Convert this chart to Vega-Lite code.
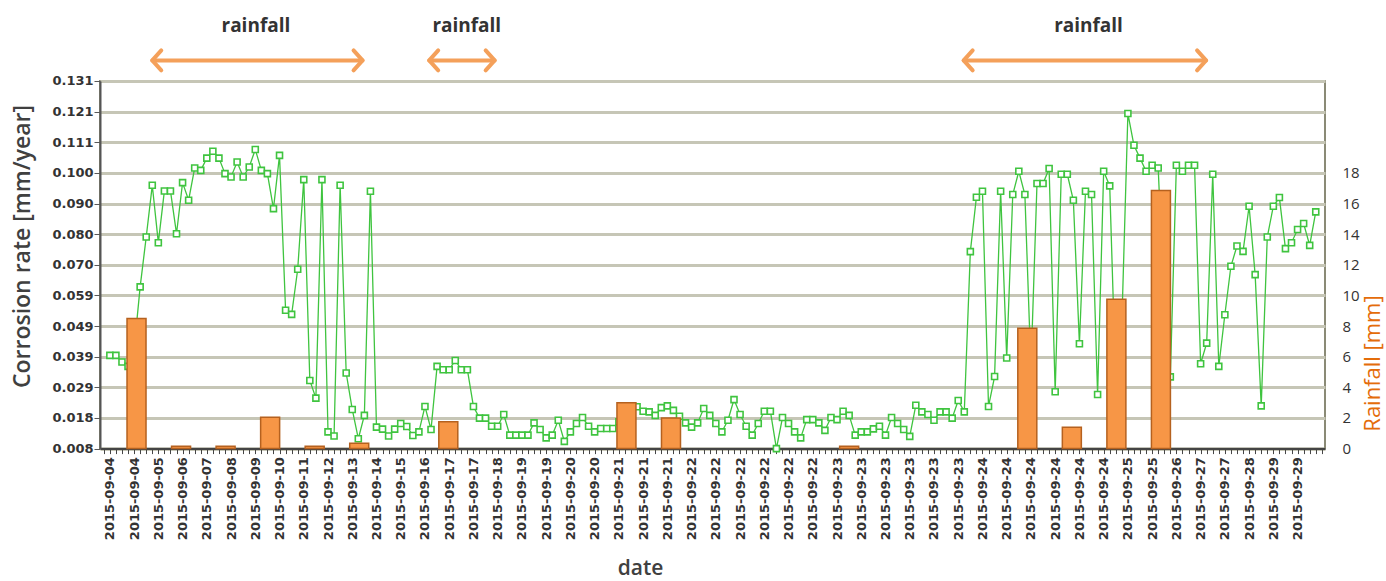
{
  "$schema": "https://vega.github.io/schema/vega-lite/v6.json",
  "width": 1225,
  "height": 367.6,
  "autosize": {"type": "none"},
  "padding": {"left": 100, "top": 81, "right": 61, "bottom": 132},
  "background": "white",
  "config": {
    "view": {"stroke": "#8a8a76", "strokeWidth": 2},
    "font": "Open Sans"
  },
  "datasets": {
    "corrosion": [
      {"t":0,"rate":0.0392},{"t":1,"rate":0.0392},{"t":2,"rate":0.0370},{"t":3,"rate":0.0355},{"t":4,"rate":0.0413},
      {"t":5,"rate":0.0621},{"t":6,"rate":0.0788},{"t":7,"rate":0.0961},{"t":8,"rate":0.0769},{"t":9,"rate":0.0942},
      {"t":10,"rate":0.0942},{"t":11,"rate":0.0799},{"t":12,"rate":0.0970},{"t":13,"rate":0.0911},{"t":14,"rate":0.1019},
      {"t":15,"rate":0.1011},{"t":16,"rate":0.1052},{"t":17,"rate":0.1075},{"t":18,"rate":0.1052},{"t":19,"rate":0.1000},
      {"t":20,"rate":0.0989},{"t":21,"rate":0.1039},{"t":22,"rate":0.0989},{"t":23,"rate":0.1022},{"t":24,"rate":0.1081},
      {"t":25,"rate":0.1011},{"t":26,"rate":0.1000},{"t":27,"rate":0.0883},{"t":28,"rate":0.1061},{"t":29,"rate":0.0543},
      {"t":30,"rate":0.0529},{"t":31,"rate":0.0680},{"t":32,"rate":0.0980},{"t":33,"rate":0.0308},{"t":34,"rate":0.0249},
      {"t":35,"rate":0.0980},{"t":36,"rate":0.0136},{"t":37,"rate":0.0122},{"t":38,"rate":0.0961},{"t":39,"rate":0.0333},
      {"t":40,"rate":0.0211},{"t":41,"rate":0.0113},{"t":42,"rate":0.0191},{"t":43,"rate":0.0941},{"t":44,"rate":0.0152},
      {"t":45,"rate":0.0145},{"t":46,"rate":0.0122},{"t":47,"rate":0.0145},{"t":48,"rate":0.0164},{"t":49,"rate":0.0154},
      {"t":50,"rate":0.0124},{"t":51,"rate":0.0136},{"t":52,"rate":0.0221},{"t":53,"rate":0.0144},{"t":54,"rate":0.0355},
      {"t":55,"rate":0.0344},{"t":56,"rate":0.0344},{"t":57,"rate":0.0375},{"t":58,"rate":0.0344},{"t":59,"rate":0.0344},
      {"t":60,"rate":0.0221},{"t":61,"rate":0.0182},{"t":62,"rate":0.0182},{"t":63,"rate":0.0155},{"t":64,"rate":0.0155},
      {"t":65,"rate":0.0194},{"t":66,"rate":0.0125},{"t":67,"rate":0.0125},{"t":68,"rate":0.0125},{"t":69,"rate":0.0125},
      {"t":70,"rate":0.0166},{"t":71,"rate":0.0144},{"t":72,"rate":0.0116},{"t":73,"rate":0.0125},{"t":74,"rate":0.0175},
      {"t":75,"rate":0.0104},{"t":76,"rate":0.0136},{"t":77,"rate":0.0164},{"t":78,"rate":0.0184},{"t":79,"rate":0.0155},
      {"t":80,"rate":0.0136},{"t":81,"rate":0.0147},{"t":82,"rate":0.0147},{"t":83,"rate":0.0147},{"t":84,"rate":0.0170},
      {"t":85,"rate":0.0200},{"t":86,"rate":0.0210},{"t":87,"rate":0.0220},{"t":88,"rate":0.0205},{"t":89,"rate":0.0203},
      {"t":90,"rate":0.0191},{"t":91,"rate":0.0217},{"t":92,"rate":0.0223},{"t":93,"rate":0.0208},{"t":94,"rate":0.0188},
      {"t":95,"rate":0.0166},{"t":96,"rate":0.0152},{"t":97,"rate":0.0166},{"t":98,"rate":0.0214},{"t":99,"rate":0.0191},
      {"t":100,"rate":0.0164},{"t":101,"rate":0.0136},{"t":102,"rate":0.0175},{"t":103,"rate":0.0244},{"t":104,"rate":0.0194},
      {"t":105,"rate":0.0155},{"t":106,"rate":0.0125},{"t":107,"rate":0.0164},{"t":108,"rate":0.0205},{"t":109,"rate":0.0205},
      {"t":110,"rate":0.0080},{"t":111,"rate":0.0184},{"t":112,"rate":0.0164},{"t":113,"rate":0.0136},{"t":114,"rate":0.0116},
      {"t":115,"rate":0.0177},{"t":116,"rate":0.0177},{"t":117,"rate":0.0166},{"t":118,"rate":0.0141},{"t":119,"rate":0.0184},
      {"t":120,"rate":0.0177},{"t":121,"rate":0.0205},{"t":122,"rate":0.0191},{"t":123,"rate":0.0125},{"t":124,"rate":0.0136},
      {"t":125,"rate":0.0136},{"t":126,"rate":0.0146},{"t":127,"rate":0.0155},{"t":128,"rate":0.0125},{"t":129,"rate":0.0184},
      {"t":130,"rate":0.0164},{"t":131,"rate":0.0144},{"t":132,"rate":0.0121},{"t":133,"rate":0.0225},{"t":134,"rate":0.0203},
      {"t":135,"rate":0.0194},{"t":136,"rate":0.0175},{"t":137,"rate":0.0203},{"t":138,"rate":0.0203},{"t":139,"rate":0.0182},
      {"t":140,"rate":0.0241},{"t":141,"rate":0.0203},{"t":142,"rate":0.0739},{"t":143,"rate":0.0921},{"t":144,"rate":0.0941},
      {"t":145,"rate":0.0221},{"t":146,"rate":0.0321},{"t":147,"rate":0.0941},{"t":148,"rate":0.0383},{"t":149,"rate":0.0930},
      {"t":150,"rate":0.1008},{"t":151,"rate":0.0930},{"t":152,"rate":0.0350},{"t":153,"rate":0.0967},{"t":154,"rate":0.0967},
      {"t":155,"rate":0.1017},{"t":156,"rate":0.0270},{"t":157,"rate":0.0998},{"t":158,"rate":0.0998},{"t":159,"rate":0.0911},
      {"t":160,"rate":0.0431},{"t":161,"rate":0.0941},{"t":162,"rate":0.0930},{"t":163,"rate":0.0261},{"t":164,"rate":0.1008},
      {"t":165,"rate":0.0959},{"t":166,"rate":0.0300},{"t":167,"rate":0.0500},{"t":168,"rate":0.1201},{"t":169,"rate":0.1095},
      {"t":170,"rate":0.1052},{"t":171,"rate":0.1008},{"t":172,"rate":0.1028},{"t":173,"rate":0.1019},{"t":174,"rate":0.0550},
      {"t":175,"rate":0.0320},{"t":176,"rate":0.1028},{"t":177,"rate":0.1008},{"t":178,"rate":0.1028},{"t":179,"rate":0.1028},
      {"t":180,"rate":0.0364},{"t":181,"rate":0.0433},{"t":182,"rate":0.0998},{"t":183,"rate":0.0355},{"t":184,"rate":0.0528},
      {"t":185,"rate":0.0690},{"t":186,"rate":0.0758},{"t":187,"rate":0.0740},{"t":188,"rate":0.0891},{"t":189,"rate":0.0662},
      {"t":190,"rate":0.0223},{"t":191,"rate":0.0788},{"t":192,"rate":0.0891},{"t":193,"rate":0.0920},{"t":194,"rate":0.0749},
      {"t":195,"rate":0.0769},{"t":196,"rate":0.0813},{"t":197,"rate":0.0833},{"t":198,"rate":0.0760},{"t":199,"rate":0.0872}
    ],
    "rain": [
      {"t":4.4,"rain":8.5},{"t":11.75,"rain":0.15},{"t":19.1,"rain":0.15},{"t":26.45,"rain":2.05},
      {"t":33.8,"rain":0.15},{"t":41.15,"rain":0.35},{"t":55.85,"rain":1.75},{"t":85.25,"rain":3.0},
      {"t":92.6,"rain":2.0},{"t":122.0,"rain":0.15},{"t":151.4,"rain":7.85},{"t":158.75,"rain":1.4},
      {"t":166.1,"rain":9.75},{"t":173.45,"rain":16.85}
    ],
    "periods": [
      {"start":7.0,"end":41.7,"mid":24.1,"label":"rainfall"},
      {"start":52.7,"end":63.5,"mid":58.9,"label":"rainfall"},
      {"start":140.9,"end":180.9,"mid":161.5,"label":"rainfall"}
    ]
  },
  "layer": [
    {
      "data": {"name": "corrosion"},
      "mark": {"type": "line", "color": "#3fc43f", "strokeWidth": 1.3},
      "encoding": {
        "x": {
          "field": "t", "type": "quantitative",
          "scale": {"domain": [-0.8, 199.7], "nice": false, "zero": false},
          "axis": {
            "orient": "bottom", "title": "date", "tickCount": 200,
            "labelExpr": "datum.value % 4 === 0 ? ['2015-09-04','2015-09-04','2015-09-05','2015-09-06','2015-09-07','2015-09-08','2015-09-09','2015-09-10','2015-09-11','2015-09-12','2015-09-13','2015-09-14','2015-09-15','2015-09-16','2015-09-17','2015-09-17','2015-09-18','2015-09-19','2015-09-19','2015-09-20','2015-09-20','2015-09-21','2015-09-21','2015-09-21','2015-09-22','2015-09-22','2015-09-22','2015-09-22','2015-09-22','2015-09-22','2015-09-23','2015-09-23','2015-09-23','2015-09-23','2015-09-23','2015-09-23','2015-09-24','2015-09-24','2015-09-24','2015-09-24','2015-09-24','2015-09-24','2015-09-25','2015-09-25','2015-09-26','2015-09-27','2015-09-27','2015-09-28','2015-09-29','2015-09-29'][datum.value / 4] : ''",
            "labelAngle": 270, "labelAlign": "right", "labelBaseline": "middle",
            "labelOverlap": false, "labelFlush": false,
            "labelFont": "DejaVu Sans", "labelFontWeight": "bold", "labelFontSize": 13, "labelColor": "#333333",
            "labelPadding": 3, "tickSize": 5, "tickColor": "#444444", "domainColor": "#444444", "domainWidth": 2,
            "grid": false,
            "titleFont": "Open Sans", "titleFontSize": 21, "titleFontWeight": 600, "titleColor": "#404040",
            "titleX": 540, "titleY": 126, "titleBaseline": "alphabetic", "titleAlign": "center"
          }
        },
        "y": {
          "field": "rate", "type": "quantitative",
          "scale": {"domain": [0.008, 0.131], "nice": false, "zero": false},
          "axis": {
            "orient": "left", "title": "Corrosion rate [mm/year]",
            "values": [0.008, 0.01826, 0.02851, 0.03876, 0.049, 0.05926, 0.06951, 0.07976, 0.09, 0.10026, 0.11051, 0.12076, 0.131],
            "format": ".3f", "grid": true, "gridColor": "#c6c6b6", "gridWidth": 3,
            "tickSize": 6, "tickColor": "#555555", "domainColor": "#555555", "domainWidth": 2,
            "labelFont": "DejaVu Sans", "labelFontWeight": "bold", "labelFontSize": 13, "labelColor": "#333333",
            "labelPadding": 1,
            "titleFont": "Open Sans", "titleFontSize": 23, "titleFontWeight": 600, "titleColor": "#404040",
            "titleX": -78, "titleY": 165, "titleAngle": 270, "titleBaseline": "middle", "titleAlign": "center"
          }
        }
      }
    },
    {
      "data": {"name": "corrosion"},
      "mark": {"type": "point", "shape": "square", "size": 36, "filled": true, "fill": "white", "stroke": "#3fc43f", "strokeWidth": 1.6, "opacity": 1},
      "encoding": {
        "x": {"field": "t", "type": "quantitative"},
        "y": {"field": "rate", "type": "quantitative", "scale": {"domain": [0.008, 0.131], "nice": false, "zero": false}, "axis": null}
      }
    },
    {
      "data": {"name": "rain"},
      "mark": {"type": "bar", "size": 19, "color": "#F79646", "stroke": "#B5611F", "strokeWidth": 1.5},
      "encoding": {
        "x": {"field": "t", "type": "quantitative"},
        "y": {
          "field": "rain", "type": "quantitative",
          "scale": {"domain": [0, 24], "nice": false},
          "axis": {
            "orient": "right", "title": "Rainfall [mm]",
            "values": [0, 2, 4, 6, 8, 10, 12, 14, 16, 18],
            "grid": false, "domain": false, "ticks": false,
            "labelFont": "Open Sans", "labelFontSize": 15, "labelColor": "#333333", "labelPadding": 17,
            "titleFont": "Open Sans", "titleFontSize": 22, "titleFontWeight": "normal", "titleColor": "#E46C0A",
            "titleX": 48, "titleY": 282, "titleAngle": 270, "titleBaseline": "middle", "titleAlign": "center"
          }
        }
      }
    },
    {
      "data": {"name": "periods"},
      "mark": {"type": "rule", "color": "#F4A05A", "strokeWidth": 4, "strokeCap": "round"},
      "encoding": {
        "x": {"field": "start", "type": "quantitative"},
        "x2": {"field": "end"},
        "y": {"datum": 0.1379, "type": "quantitative", "scale": {"domain": [0.008, 0.131], "nice": false, "zero": false}, "axis": null}
      }
    },
    {
      "data": {"name": "periods"},
      "mark": {"type": "point", "shape": "M0.9,-1L0,0L0.9,1", "size": 400, "filled": false, "stroke": "#F4A05A", "strokeWidth": 4, "strokeCap": "round", "strokeJoin": "round", "opacity": 1},
      "encoding": {
        "x": {"field": "start", "type": "quantitative"},
        "y": {"datum": 0.1379, "type": "quantitative", "scale": {"domain": [0.008, 0.131], "nice": false, "zero": false}, "axis": null}
      }
    },
    {
      "data": {"name": "periods"},
      "mark": {"type": "point", "shape": "M-0.9,-1L0,0L-0.9,1", "size": 400, "filled": false, "stroke": "#F4A05A", "strokeWidth": 4, "strokeCap": "round", "strokeJoin": "round", "opacity": 1},
      "encoding": {
        "x": {"field": "end", "type": "quantitative"},
        "y": {"datum": 0.1379, "type": "quantitative", "scale": {"domain": [0.008, 0.131], "nice": false, "zero": false}, "axis": null}
      }
    },
    {
      "data": {"name": "periods"},
      "mark": {"type": "text", "font": "Open Sans", "fontSize": 19, "fontWeight": "bold", "color": "#333333", "baseline": "alphabetic", "align": "center"},
      "encoding": {
        "x": {"field": "mid", "type": "quantitative"},
        "y": {"datum": 0.1473, "type": "quantitative", "scale": {"domain": [0.008, 0.131], "nice": false, "zero": false}, "axis": null},
        "text": {"field": "label"}
      }
    }
  ],
  "resolve": {"scale": {"y": "independent"}, "axis": {"y": "independent"}}
}
